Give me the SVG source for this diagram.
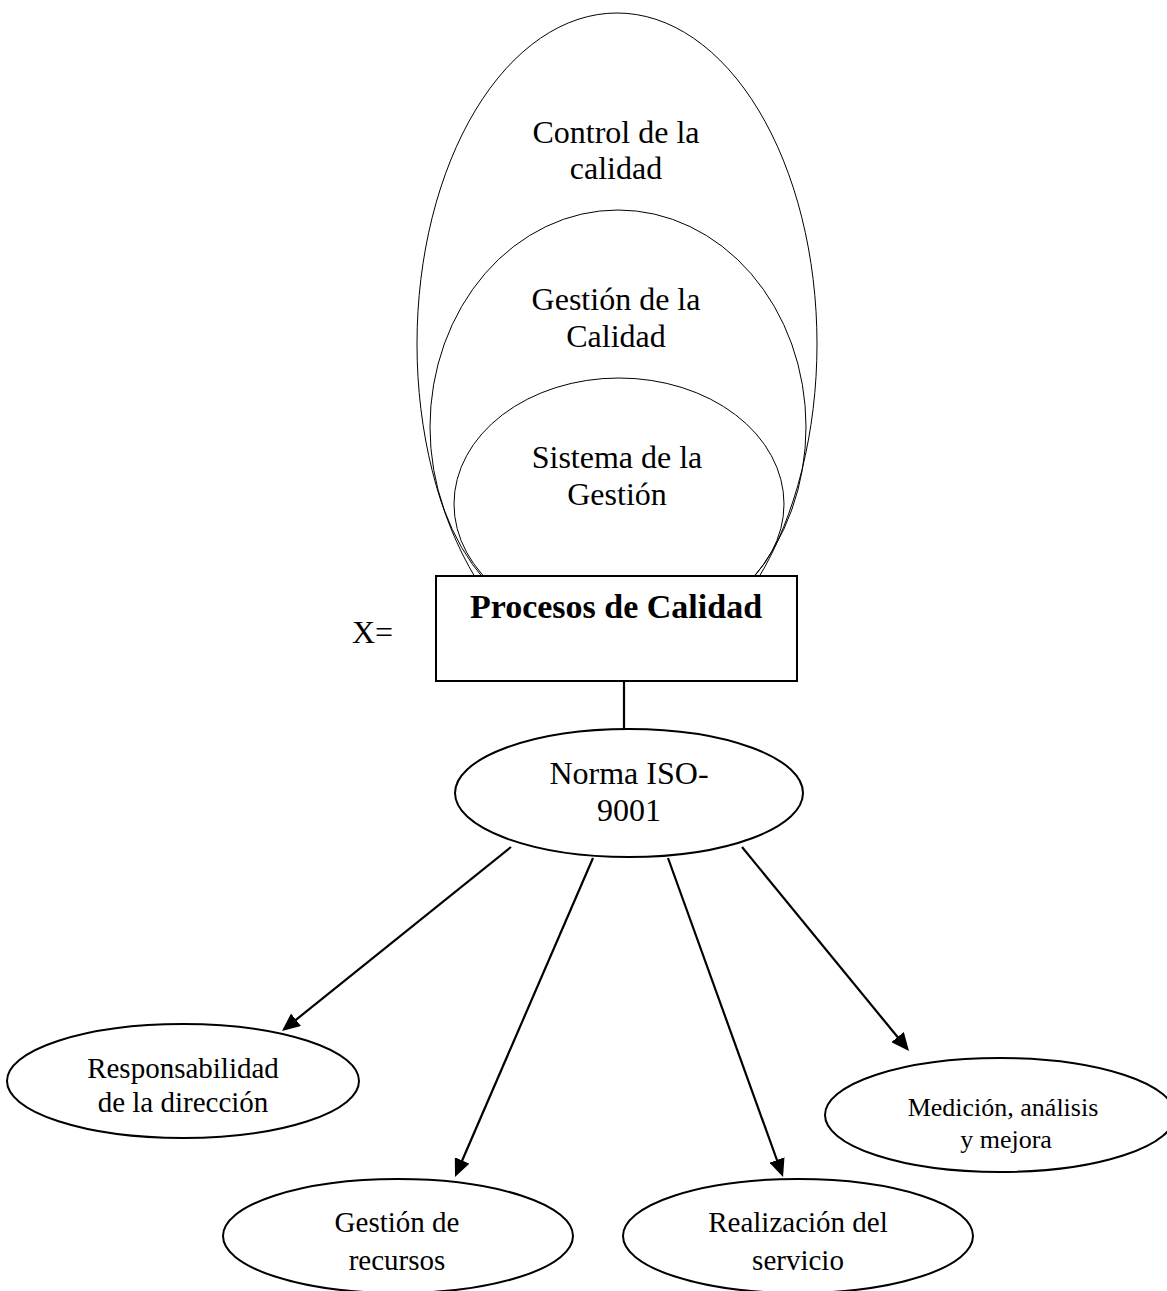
<svg xmlns="http://www.w3.org/2000/svg" width="1167" height="1291" viewBox="0 0 1167 1291">
  <defs>
    <style>
      .lbl { font-family: "Liberation Serif", "Times New Roman", serif; fill: #000; text-anchor: middle; }
      .big { font-size: 32px; }
      .mid { font-size: 29px; }
      .sm { font-size: 26px; }
      .thin { fill: none; stroke: #000; stroke-width: 1; }
      .node { fill: #fff; stroke: #000; stroke-width: 2; }
      .edge { stroke: #000; stroke-width: 2.2; fill: none; }
    </style>
    <marker id="arrow" markerUnits="userSpaceOnUse" markerWidth="18" markerHeight="16" refX="9" refY="8" orient="auto">
      <path d="M0,0 L18,8 L0,16 z" fill="#000"/>
    </marker>
  </defs>
  <rect width="1167" height="1291" fill="#fff"/>

  <!-- nested quality levels -->
  <g id="control-calidad">
    <ellipse class="thin" cx="617" cy="344" rx="200" ry="331"/>
    <text class="lbl big" x="616" y="143">Control de la</text>
    <text class="lbl big" x="616" y="179">calidad</text>
  </g>
  <g id="gestion-calidad">
    <ellipse class="thin" cx="618" cy="427" rx="188" ry="217"/>
    <text class="lbl big" x="616" y="310">Gestión de la</text>
    <text class="lbl big" x="616" y="347">Calidad</text>
  </g>
  <g id="sistema-gestion">
    <ellipse class="thin" cx="619" cy="504" rx="165" ry="126"/>
    <text class="lbl big" x="617" y="468">Sistema de la</text>
    <text class="lbl big" x="617" y="505">Gestión</text>
  </g>

  <text id="x-eq" class="lbl big" x="352" y="643" style="text-anchor:start">X=</text>

  <g id="procesos">
    <rect class="node" x="436" y="576" width="361" height="105"/>
    <text class="lbl" x="616" y="618" style="font-size:34px;font-weight:bold">Procesos de Calidad</text>
  </g>

  <!-- connectors -->
  <g id="connectors">
    <line class="edge" x1="624" y1="682" x2="624" y2="729"/>
    <line class="edge" x1="511" y1="847" x2="289" y2="1025.4" marker-end="url(#arrow)"/>
    <line class="edge" x1="593" y1="858" x2="458.6" y2="1168.7" marker-end="url(#arrow)"/>
    <line class="edge" x1="668" y1="858" x2="780" y2="1168.5" marker-end="url(#arrow)"/>
    <line class="edge" x1="742" y1="847" x2="903.3" y2="1044" marker-end="url(#arrow)"/>
  </g>

  <g id="norma">
    <ellipse class="node" cx="629" cy="793" rx="174" ry="64"/>
    <text class="lbl big" x="629" y="784">Norma ISO-</text>
    <text class="lbl big" x="629" y="821">9001</text>
  </g>

  <g id="responsabilidad">
    <ellipse class="node" cx="183" cy="1081" rx="176" ry="57"/>
    <text class="lbl mid" x="183" y="1078">Responsabilidad</text>
    <text class="lbl mid" x="183" y="1112">de la dirección</text>
  </g>

  <g id="recursos">
    <ellipse class="node" cx="398" cy="1236" rx="175" ry="57"/>
    <text class="lbl mid" x="397" y="1232">Gestión de</text>
    <text class="lbl mid" x="397" y="1270">recursos</text>
  </g>

  <g id="servicio">
    <ellipse class="node" cx="798" cy="1236" rx="175" ry="57"/>
    <text class="lbl mid" x="798" y="1232">Realización del</text>
    <text class="lbl mid" x="798" y="1270">servicio</text>
  </g>

  <g id="medicion">
    <ellipse class="node" cx="1000" cy="1115" rx="175" ry="57"/>
    <text class="lbl sm" x="1003" y="1116">Medición, análisis</text>
    <text class="lbl sm" x="1006" y="1148">y mejora</text>
  </g>
</svg>
